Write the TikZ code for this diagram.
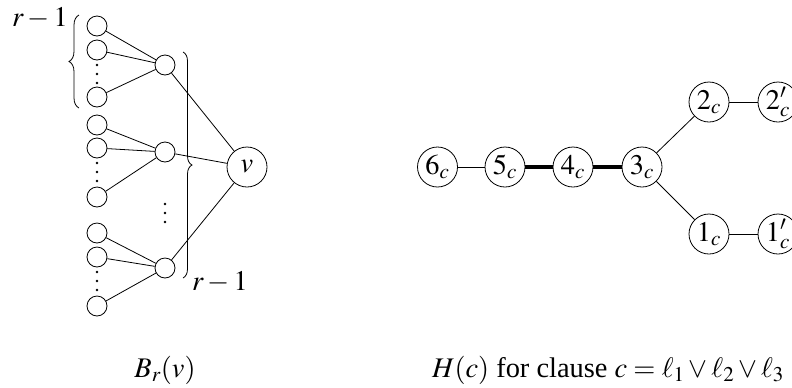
\documentclass[tikz,border=0pt]{standalone}
\usepackage{mathptmx}
\usepackage[no-math]{fontspec}
\setmainfont{Liberation Serif}
\usetikzlibrary{decorations.pathreplacing}
\newcommand\figfont{\fontsize{28.5}{33}\selectfont}
\begin{document}
\begin{tikzpicture}[x=1bp,y=-1bp,
  txt/.style={font=\figfont, inner sep=0pt},
  leaf/.style={circle,draw,minimum size=20bp,inner sep=0pt,line width=0.8bp},
  big/.style={circle,draw,minimum size=40bp,inner sep=0pt,line width=0.8bp,font=\figfont},
  edge/.style={line width=0.8bp},
  thickedge/.style={line width=4bp},
  dotmark/.style={circle,fill,inner sep=0pt,minimum size=2.6bp},
  bracedec/.style={decorate,decoration={brace,amplitude=#1},line width=0.8bp}]
\useasboundingbox (0,0) rectangle (792,387);
% left: B_r(v)
\foreach \g/\ya/\yb/\yc/\ym in {1/26/50/97/65, 2/125/148/197/152, 3/233/257/306/268} {
  \node[leaf] (l\g a) at (97,\ya) {};
  \node[leaf] (l\g b) at (97,\yb) {};
  \node[leaf] (l\g c) at (97,\yc) {};
  \node[leaf] (m\g) at (165,\ym) {};
  \draw[edge] (l\g a) -- (m\g);
  \draw[edge] (l\g b) -- (m\g);
  \draw[edge] (l\g c) -- (m\g);
  \node[dotmark] (d\g a) at (97,{\yb+15}) {};
  \node[dotmark] (d\g b) at (97,{\yb+24}) {};
  \node[dotmark] (d\g c) at (97,{\yb+33}) {};
}
\node[dotmark] (md1) at (165,204) {};
\node[dotmark] (md2) at (165,213) {};
\node[dotmark] (md3) at (165,222) {};
\node[big] (v) at (247,167) {$v$};
\draw[edge] (m1) -- (v);
\draw[edge] (m2) -- (v);
\draw[edge] (m3) -- (v);
\coordinate (lbA) at (79,108);
\coordinate (lbB) at (79,15);
\draw[bracedec=10bp] (lbA) -- (lbB);
\coordinate (rbA) at (183,52);
\coordinate (rbB) at (183,278);
\draw[bracedec=9bp] (rbA) -- (rbB);
\node[txt,anchor=base] (rtop) at (40,26) {$r-1$};
\node[txt,anchor=base] (rbot) at (220,290) {$r-1$};
\node[txt,anchor=base] (capB) at (165,377) {$B_r(v)$};
% right: H(c)
\node[big] (n6) at (437.5,167) {$6_c$};
\node[big] (n5) at (505,167) {$5_c$};
\node[big] (n4) at (573,167) {$4_c$};
\node[big] (n3) at (642,167) {$3_c$};
\node[big] (n2) at (709,102) {$2_c$};
\node[big] (n2p) at (778,102) {$2'_c$};
\node[big] (n1) at (709,234) {$1_c$};
\node[big] (n1p) at (778,234) {$1'_c$};
\draw[edge] (n6) -- (n5);
\draw[thickedge] (n5) -- (n4);
\draw[thickedge] (n4) -- (n3);
\draw[edge] (n3) -- (n2);
\draw[edge] (n3) -- (n1);
\draw[edge] (n2) -- (n2p);
\draw[edge] (n1) -- (n1p);
\node[txt,anchor=base] (capH) at (608,377) {$H(c)$ for clause $c=\ell_1\vee\ell_2\vee\ell_3$};
\end{tikzpicture}
\end{document}
